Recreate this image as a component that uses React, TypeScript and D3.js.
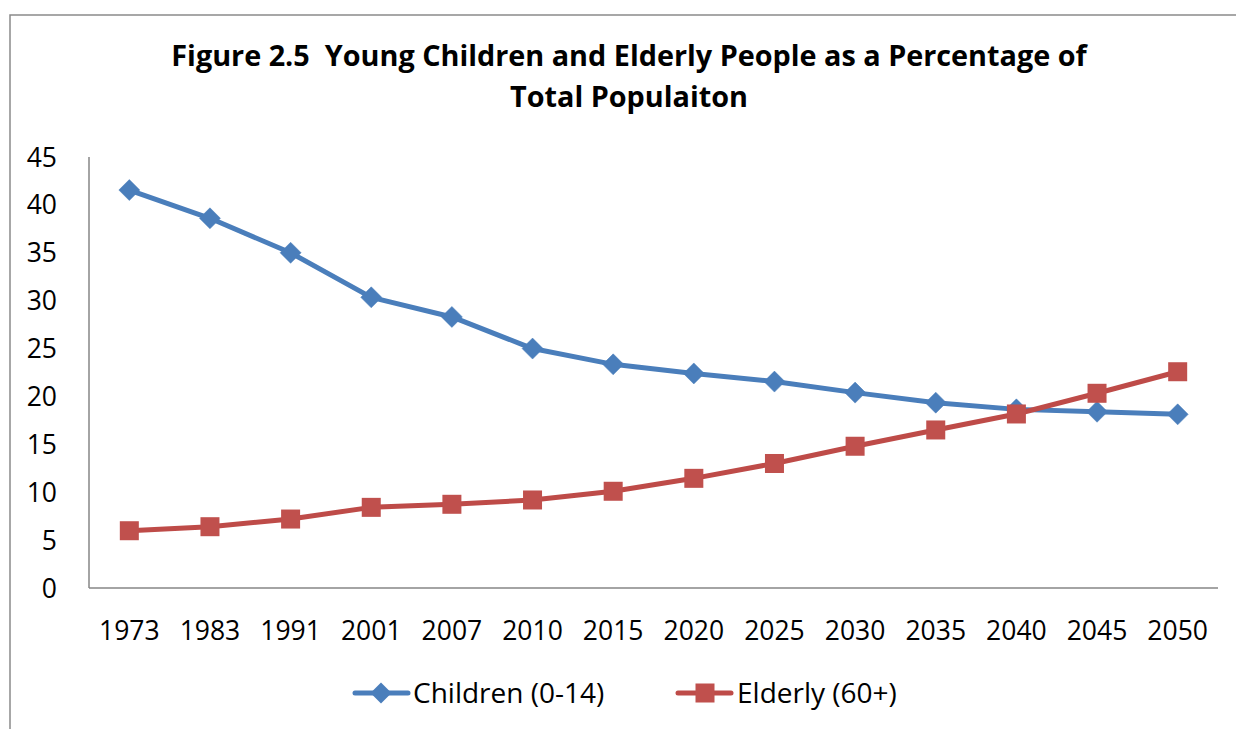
import React from "react";
import * as d3 from "d3";

// Survey years shown along the horizontal axis
const years = ["1973", "1983", "1991", "2001", "2007", "2010", "2015", "2020", "2025", "2030", "2035", "2040", "2045", "2050"];

// Share of total population (%)
const children = [41.55, 38.6, 35.0, 30.35, 28.3, 25.0, 23.35, 22.4, 21.55, 20.4, 19.35, 18.65, 18.4, 18.13];
const elderly = [5.98, 6.4, 7.2, 8.42, 8.74, 9.19, 10.1, 11.45, 13.0, 14.8, 16.5, 18.17, 20.33, 22.58];

const yTicks = [0, 5, 10, 15, 20, 25, 30, 35, 40, 45];

const titleLines = [
  "Figure 2.5  Young Children and Elderly People as a Percentage of",
  "Total Populaiton",
];

const seriesNames = ["Children (0-14)", "Elderly (60+)"];

const W = 1236;
const H = 729;
const FONT = "'Open Sans', Lato, sans-serif";
const BLUE = "#4A7EBB";
const BLUE_MARK = "#4A7EBB";
const RED = "#BE4B48";
const RED_MARK = "#C0504D";

export default function App() {
  const plot = { left: 89, right: 1218, top: 157, bottom: 588 };

  const x = d3.scaleBand<string>().domain(years).range([plot.left, plot.right]).padding(0);
  const y = d3.scaleLinear().domain([0, 45]).range([plot.bottom, plot.top]);
  const cx = (yr: string) => (x(yr) ?? 0) + x.bandwidth() / 2;

  const line = d3
    .line<number>()
    .x((_, i) => cx(years[i]))
    .y((v) => y(v));

  const diamond = (px: number, py: number, r: number) =>
    `M${px},${py - r}L${px + r},${py}L${px},${py + r}L${px - r},${py}Z`;
  const DR = 10.5;
  const SQ = 19;

  return (
    <div style={{ position: "absolute", left: 0, top: 0 }}>
      <svg width={W} height={H} style={{ display: "block" }}>
        <rect x={0} y={0} width={W} height={H} fill="#fff" />
        {/* chart frame */}
        <path d={`M10,${H + 5}L10,15L${W + 5},15`} fill="none" stroke="#8a8a8a" strokeWidth={1.5} />

        {/* title */}
        <text x={629} y={66} textAnchor="middle" fontFamily={FONT} fontWeight={700} fontSize={28.8} fill="#000" style={{ whiteSpace: "pre" }}>
          {titleLines[0]}
        </text>
        <text x={629} y={107} textAnchor="middle" fontFamily={FONT} fontWeight={700} fontSize={28.8} fill="#000">
          {titleLines[1]}
        </text>

        {/* axes */}
        <line x1={plot.left} x2={plot.left} y1={plot.top} y2={plot.bottom} stroke="#868686" strokeWidth={1.5} />
        <line x1={plot.left} x2={plot.right} y1={plot.bottom} y2={plot.bottom} stroke="#868686" strokeWidth={1.5} />

        {yTicks.map((t) => (
          <text key={t} x={57} y={y(t) + 9.5} textAnchor="end" fontFamily={FONT} fontSize={26.5} fill="#000">
            {t}
          </text>
        ))}
        {years.map((yr) => (
          <text key={yr} x={cx(yr)} y={640} textAnchor="middle" fontFamily={FONT} fontSize={26.5} fill="#000">
            {yr}
          </text>
        ))}

        {/* children series */}
        <path d={line(children) ?? ""} fill="none" stroke={BLUE} strokeWidth={5} strokeLinejoin="round" strokeLinecap="round" />
        {children.map((v, i) => (
          <path key={`c${i}`} d={diamond(cx(years[i]), y(v), DR)} fill={BLUE_MARK} stroke={BLUE_MARK} strokeWidth={0.5} />
        ))}

        {/* elderly series */}
        <path d={line(elderly) ?? ""} fill="none" stroke={RED} strokeWidth={5} strokeLinejoin="round" strokeLinecap="round" />
        {elderly.map((v, i) => (
          <rect key={`e${i}`} x={cx(years[i]) - SQ / 2} y={y(v) - SQ / 2} width={SQ} height={SQ} fill={RED_MARK} />
        ))}

        {/* legend */}
        <line x1={355} x2={408} y1={693} y2={693} stroke={BLUE} strokeWidth={5} strokeLinecap="round" />
        <path d={diamond(381, 693, DR)} fill={BLUE_MARK} />
        <text x={413} y={703} fontFamily={FONT} fontSize={28} fill="#000">
          {seriesNames[0]}
        </text>
        <line x1={678} x2={731} y1={693} y2={693} stroke={RED} strokeWidth={5} strokeLinecap="round" />
        <rect x={705 - SQ / 2} y={693 - SQ / 2} width={SQ} height={SQ} fill={RED_MARK} />
        <text x={737} y={703} fontFamily={FONT} fontSize={28} fill="#000">
          {seriesNames[1]}
        </text>
      </svg>
    </div>
  );
}
